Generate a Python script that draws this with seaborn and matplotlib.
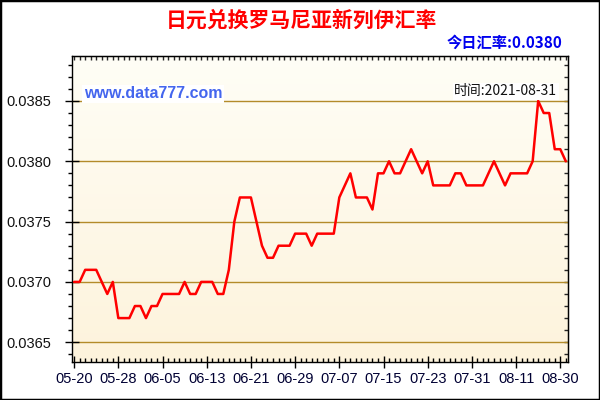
import matplotlib
matplotlib.use('Agg')
import numpy as np
import matplotlib.pyplot as plt
import seaborn as sns
from matplotlib.colors import LinearSegmentedColormap
from matplotlib.patches import Rectangle

# 日元兑罗马尼亚新列伊, 单位 0.0001
rates_e4 = [370, 370, 371, 371, 371, 370, 369, 370, 367, 367,
            367, 368, 368, 367, 368, 368, 369, 369, 369, 369,
            370, 369, 369, 370, 370, 370, 369, 369, 371, 375,
            377, 377, 377, 375, 373, 372, 372, 373, 373, 373,
            374, 374, 374, 373, 374, 374, 374, 374, 377, 378,
            379, 377, 377, 377, 376, 379, 379, 380, 379, 379,
            380, 381, 380, 379, 380, 378, 378, 378, 378, 379,
            379, 378, 378, 378, 378, 379, 380, 379, 378, 379,
            379, 379, 379, 380, 385, 384, 384, 381, 381, 380]
tick_labels = ['05-20', '05-28', '06-05', '06-13', '06-21', '06-29',
               '07-07', '07-15', '07-23', '07-31', '08-11', '08-30']
y_ticks = [0.0365, 0.0370, 0.0375, 0.0380, 0.0385]

rates = np.array(rates_e4) / 10000.0
idx = np.arange(len(rates))

sns.set_style('ticks')
plt.rcParams['font.family'] = ['Liberation Sans', 'Noto Sans CJK SC', 'DejaVu Sans']
cjk = ['Noto Sans CJK SC', 'DejaVu Sans']

fig = plt.figure(figsize=(6, 4), dpi=100)
fig.patch.set_facecolor('white')
ax = fig.add_axes([0.1208, 0.095, 0.8259, 0.766])

# 背景渐变
bg = LinearSegmentedColormap.from_list('bg', ['#FDF3DC', '#FFFEF6'])
grad = np.linspace(0, 1, 256).reshape(-1, 1)
ax.imshow(grad, extent=[0, 1, 0, 1], transform=ax.transAxes, cmap=bg,
          origin='lower', aspect='auto', zorder=0)

sns.lineplot(x=idx, y=rates, color='red', linewidth=1.8, ax=ax, zorder=3)

ax.set_xlim(-0.3, 89.4)
ax.set_ylim(0.036336, 0.038876)
ax.set_xlabel('')
ax.set_ylabel('')

ax.set_xticks(idx[::8])
ax.set_xticklabels(tick_labels, fontsize=10.5, color='#000033')
ax.set_xticks(idx, minor=True)
ax.set_yticks(y_ticks)
ax.set_yticklabels(['%.4f' % v for v in y_ticks], fontsize=10.5, color='#111111')
ax.set_yticks(np.arange(0.0364, 0.03889, 0.0001), minor=True)

ax.tick_params(axis='x', which='minor', direction='in', length=3, width=1, color='black')
ax.tick_params(axis='x', which='major', direction='inout', length=8, width=1, color='black', pad=3)
ax.tick_params(axis='y', which='minor', direction='out', length=3, width=1, color='black')
ax.tick_params(axis='y', which='major', direction='inout', length=10, width=1, color='black', pad=10)

ax.yaxis.grid(True, which='major', color='#B38B2A', linewidth=1, zorder=1)
ax.xaxis.grid(False)
for s in ax.spines.values():
    s.set_color('black')
    s.set_linewidth(1)

top = ax.secondary_xaxis('top')
top.set_xticks(idx)
top.set_xticklabels([])
top.tick_params(direction='in', length=3, width=1)
right = ax.secondary_yaxis('right')
right.set_yticks(np.arange(0.0364, 0.03889, 0.0001))
right.set_yticklabels([])
right.tick_params(direction='in', length=3, width=1)

fig.text(0.502, 0.95, '日元兑换罗马尼亚新列伊汇率', family=cjk, fontsize=15,
         fontweight='bold', color='#FF0000', ha='center', va='center')
fig.text(0.938, 0.893, '今日汇率:0.0380', family=cjk, fontsize=11,
         fontweight='bold', color='#0000EE', ha='right', va='center')
ax.text(0.023, 0.875, 'www.data777.com', transform=ax.transAxes, fontsize=11.5,
        fontweight='bold', color='#4466EE', ha='left', va='center',
        bbox=dict(facecolor='white', edgecolor='none', pad=1), zorder=5)
ax.text(0.978, 0.884, '时间:2021-08-31', transform=ax.transAxes, family=cjk,
        fontsize=10, color='#111111', ha='right', va='center',
        bbox=dict(facecolor='white', edgecolor='none', pad=1), zorder=5)

fig.patches.append(Rectangle((0, 0), 1, 1, transform=fig.transFigure, fill=False,
                             edgecolor='black', linewidth=2.5))

fig.savefig('out.png', dpi=100)
